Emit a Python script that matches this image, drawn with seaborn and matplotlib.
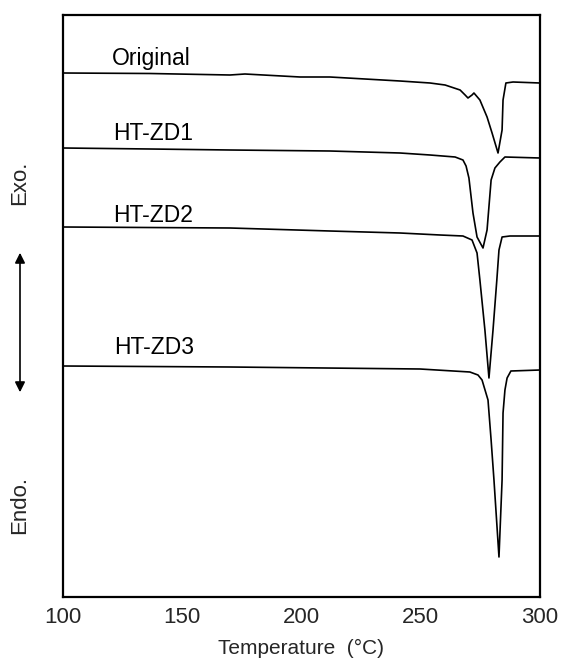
import matplotlib
matplotlib.use("Agg")
import matplotlib.pyplot as plt
import seaborn as sns
import pandas as pd

# ---- data (temperature in degC, heat flow in arbitrary units, offset curves) ----
orig_T = [100.0, 136.5, 170.0, 176.3, 199.4, 211.9, 241.3, 253.9, 260.2, 266.5, 268.6, 269.8,
          271.5, 272.3, 274.8, 277.8, 279.9, 282.4, 284.1, 284.5, 285.7, 288.7, 300.0]
orig_Q = [52.4, 52.35, 52.2, 52.3, 52.0, 52.0, 51.6, 51.4, 51.2, 50.7, 50.2, 49.9,
          50.2, 50.4, 49.7, 48.0, 46.4, 44.4, 46.7, 49.7, 51.4, 51.5, 51.4]

zd1_T = [100.0, 136.5, 170.0, 211.9, 241.3, 253.9, 264.4, 267.7, 269.0, 270.2, 271.9, 273.6,
         276.1, 277.8, 279.5, 281.1, 283.2, 285.3, 300.0]
zd1_Q = [44.9, 44.8, 44.7, 44.6, 44.4, 44.2, 44.0, 43.7, 43.1, 41.9, 38.4, 36.0,
         34.9, 36.7, 41.7, 42.9, 43.5, 44.0, 43.9]

zd2_T = [100.0, 170.0, 211.9, 241.3, 258.1, 267.7, 271.5, 273.6, 274.8, 276.9, 278.6,
         280.3, 281.9, 282.8, 284.1, 287.4, 300.0]
zd2_Q = [37.0, 36.9, 36.6, 36.4, 36.2, 36.1, 35.7, 34.4, 31.7, 26.7, 21.9,
         26.7, 31.7, 34.7, 36.0, 36.1, 36.1]

zd3_T = [100.0, 170.0, 249.7, 270.6, 274.0, 275.7, 278.2, 279.5, 280.7, 282.8,
         284.1, 284.5, 285.3, 286.2, 287.8, 300.0]
zd3_Q = [23.1, 23.0, 22.8, 22.5, 22.2, 21.7, 19.7, 15.7, 11.7, 4.0,
         11.7, 18.4, 20.7, 21.9, 22.6, 22.7]

series_names = ["Original", "HT-ZD1", "HT-ZD2", "HT-ZD3"]
label_T = [120.5, 121.0, 121.0, 121.5]
label_Q = [53.9, 46.4, 38.2, 25.0]
x_ticks = [100, 150, 200, 250, 300]

# ---- figure ----
sns.set_style("white")
plt.rcParams["font.family"] = ["Liberation Sans", "DejaVu Sans"]

fig = plt.figure(figsize=(5.64, 6.60), dpi=100)
ax = fig.add_axes([63 / 564, 63 / 660, (540 - 63) / 564, (597 - 15) / 660])

curves = [(orig_T, orig_Q), (zd1_T, zd1_Q), (zd2_T, zd2_Q), (zd3_T, zd3_Q)]
for name, (T, Q) in zip(series_names, curves):
    df = pd.DataFrame({"T": T, "Q": Q})
    sns.lineplot(data=df, x="T", y="Q", color="black", lw=1.2, ax=ax, sort=False,
                 estimator=None)

for name, tx, ty in zip(series_names, label_T, label_Q):
    ax.text(tx, ty, name, fontsize=16.5, ha="left", va="center", color="black")

ax.set_xlim(100, 300)
ax.set_ylim(0, 58.2)
ax.set_xticks(x_ticks)
ax.set_xticklabels([str(t) for t in x_ticks], fontsize=16)
ax.set_yticks([])
ax.set_ylabel("")
ax.set_xlabel("Temperature  (\u00b0C)", fontsize=15, labelpad=8)
ax.tick_params(axis="x", direction="in", length=5, width=1.3, pad=7, top=False)
for s in ax.spines.values():
    s.set_linewidth(1.6)
    s.set_color("black")

# left-side Exo./Endo. annotation
fig.text(20 / 564, 1 - 183 / 660, "Exo.", rotation=90, fontsize=16, ha="center", va="center")
fig.text(20 / 564, 1 - 505 / 660, "Endo.", rotation=90, fontsize=16, ha="center", va="center")
fig.patches.append(matplotlib.patches.FancyArrowPatch(
    (20 / 564, 1 - 250 / 660), (20 / 564, 1 - 395 / 660), transform=fig.transFigure,
    arrowstyle="<|-|>,head_length=6,head_width=3", color="black", lw=1.2,
    mutation_scale=1))

fig.savefig("out.png", dpi=100)
